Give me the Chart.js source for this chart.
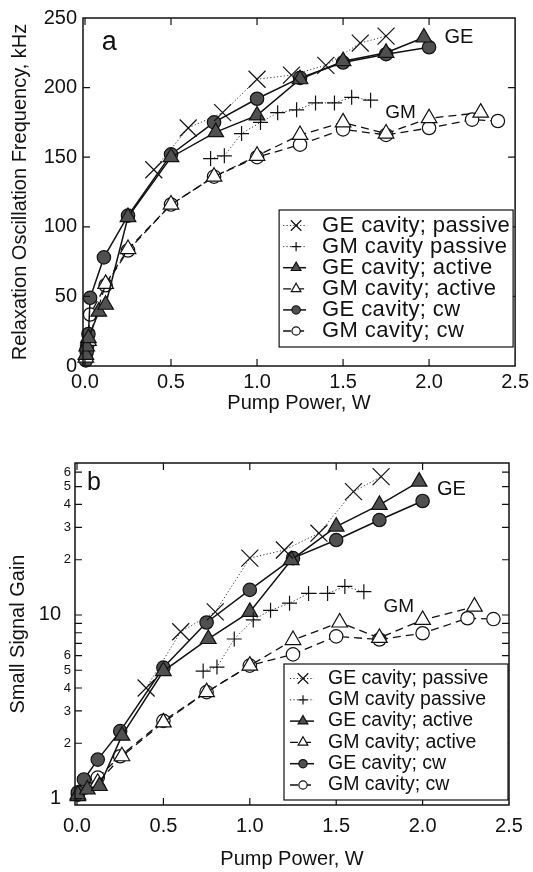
<!DOCTYPE html>
<html>
<head>
<meta charset="utf-8">
<script src="https://cdn.jsdelivr.net/npm/chart.js@4.4.1/dist/chart.umd.min.js"></script>
<style>
  html, body { margin: 0; padding: 0; background: #fff; }
  #wrap { position: relative; width: 533px; height: 872px; }
  canvas { position: absolute; left: 0; }
  #freq { top: 0; }
  #gain { top: 430px; }
</style>
</head>
<body>
<div id="wrap">
  <canvas id="freq" width="533" height="430"></canvas>
  <canvas id="gain" width="533" height="442"></canvas>
</div>
<script>
// Panel a: relaxation oscillation frequency (kHz) vs pump power (W)
const aGePassiveP = [0.4, 0.6, 0.8, 1.0, 1.2, 1.4, 1.6, 1.75];
const aGePassiveF = [141, 171, 182, 206, 209, 216, 232, 237];
const aGmPassiveP = [0.73, 0.81, 0.91, 1.02, 1.12, 1.23, 1.34, 1.45, 1.55, 1.66];
const aGmPassiveF = [149, 151, 167, 175, 182, 184, 189, 189, 193, 191];
const aGeActiveP = [0.005, 0.01, 0.02, 0.08, 0.12, 0.25, 0.5, 0.76, 1.0, 1.25, 1.5, 1.75, 1.97];
const aGeActiveF = [8, 14, 20, 39, 44, 107, 150, 168, 180, 206, 219, 225, 236];
const aGmActiveP = [0.005, 0.02, 0.12, 0.25, 0.5, 0.75, 1.0, 1.25, 1.5, 1.75, 2.0, 2.3];
const aGmActiveF = [6, 18, 59, 84, 116, 136, 151, 166, 175, 167, 178, 182];
const aGeCwP = [0.005, 0.01, 0.015, 0.02, 0.03, 0.11, 0.25, 0.5, 0.75, 1.0, 1.25, 1.5, 1.75, 2.0];
const aGeCwF = [4, 10, 16, 23, 49, 78, 108, 152, 175, 192, 207, 218, 224, 229];
const aGmCwP = [0.005, 0.01, 0.03, 0.12, 0.25, 0.5, 0.75, 1.0, 1.25, 1.5, 1.75, 2.0, 2.25, 2.4];
const aGmCwF = [5, 12, 37, 58, 83, 116, 136, 150, 159, 170, 166, 171, 177, 176];

// Panel b: small signal gain vs pump power (W)
const bGePassiveP = [0.4, 0.6, 0.8, 1.0, 1.2, 1.4, 1.6, 1.76];
const bGePassiveG = [4.0, 8.1, 10.4, 20.4, 22.6, 27.9, 47, 56.7];
const bGmPassiveP = [0.73, 0.81, 0.91, 1.02, 1.12, 1.23, 1.34, 1.45, 1.55, 1.66];
const bGmPassiveG = [4.95, 5.2, 7.4, 9.4, 10.6, 11.6, 13.1, 13.1, 14.3, 13.4];
const bGeActiveP = [0.005, 0.06, 0.13, 0.26, 0.5, 0.76, 1.0, 1.24, 1.5, 1.75, 1.98];
const bGeActiveG = [1.05, 1.12, 1.17, 2.2, 4.95, 7.4, 10.4, 19.9, 30.3, 39.8, 53.3];
const bGmActiveP = [0.005, 0.12, 0.26, 0.5, 0.75, 1.0, 1.25, 1.52, 1.75, 2.0, 2.3];
const bGmActiveG = [1.03, 1.22, 1.7, 2.6, 3.8, 5.3, 7.3, 9.1, 7.5, 9.4, 11.1];
const bGeCwP = [0.005, 0.04, 0.12, 0.25, 0.5, 0.75, 1.0, 1.25, 1.5, 1.75, 2.0];
const bGeCwG = [1.08, 1.27, 1.63, 2.33, 5.17, 9.1, 13.7, 20.4, 25.6, 32.9, 41.8];
const bGmCwP = [0.005, 0.05, 0.12, 0.25, 0.5, 0.75, 1.0, 1.25, 1.5, 1.75, 2.0, 2.26, 2.41];
const bGmCwG = [1.05, 1.15, 1.3, 1.7, 2.65, 3.8, 5.3, 6.1, 7.65, 7.35, 7.95, 9.6, 9.5];

const seriesNames = ['GE cavity; passive', 'GM cavity passive', 'GE cavity; active',
                     'GM cavity; active', 'GE cavity; cw', 'GM cavity; cw'];

const powerTicks = [0, 0.5, 1.0, 1.5, 2.0, 2.5];
const freqTicks = [0, 50, 100, 150, 200, 250];
const gainTicks = [1, 2, 3, 4, 5, 6, 7, 8, 9, 10, 20, 30, 40, 50, 60];
const gainTickLabels = ['1', '2', '3', '4', '5', '6', '', '', '', '10', '2', '3', '4', '5', '6'];

const FONT = '"Liberation Sans", Arial, Helvetica, sans-serif';
Chart.defaults.font.family = FONT;
Chart.defaults.color = '#111';

const INK = '#111';
const FILL = '#505050';
const dotted = [1.2, 2.2];
const dashed = [8, 5];

// marker + line style for each of the six series
const looks = [
  { pointStyle: 'crossRot', pointRadius: 12, pointBorderWidth: 1.2, borderColor: '#333', borderWidth: 1, borderDash: dotted, pointBackgroundColor: INK },
  { pointStyle: 'cross', pointRadius: 7.5, pointBorderWidth: 1.2, borderColor: '#333', borderWidth: 1, borderDash: dotted, pointBackgroundColor: INK },
  { pointStyle: 'triangle', pointRadius: 9, pointBorderWidth: 1.2, borderColor: INK, borderWidth: 1.5, borderDash: [], pointBackgroundColor: FILL },
  { pointStyle: 'triangle', pointRadius: 9, pointBorderWidth: 1.2, borderColor: INK, borderWidth: 1.3, borderDash: dashed, pointBackgroundColor: '#fff' },
  { pointStyle: 'circle', pointRadius: 6.7, pointBorderWidth: 1.2, borderColor: INK, borderWidth: 1.5, borderDash: [], pointBackgroundColor: FILL },
  { pointStyle: 'circle', pointRadius: 6.7, pointBorderWidth: 1.2, borderColor: INK, borderWidth: 1.3, borderDash: dashed, pointBackgroundColor: '#fff' }
];

function makeSet(i, xs, ys) {
  return Object.assign({
    label: seriesNames[i],
    data: xs.map((x, k) => ({ x: x, y: ys[k] })),
    showLine: true,
    tension: 0,
    fill: false,
    pointBorderColor: INK,
    pointHoverRadius: looks[i].pointRadius,
    clip: false
  }, looks[i]);
}

function drawMark(ctx, ds, x, y, k) {
  const r = ds.pointRadius * k;
  ctx.save();
  ctx.setLineDash([]);
  ctx.lineWidth = ds.pointBorderWidth;
  ctx.strokeStyle = INK;
  ctx.fillStyle = ds.pointBackgroundColor;
  ctx.beginPath();
  if (ds.pointStyle === 'circle') {
    ctx.arc(x, y, r, 0, Math.PI * 2);
    ctx.fill(); ctx.stroke();
  } else if (ds.pointStyle === 'triangle') {
    ctx.moveTo(x, y - r);
    ctx.lineTo(x + 0.866 * r, y + 0.5 * r);
    ctx.lineTo(x - 0.866 * r, y + 0.5 * r);
    ctx.closePath();
    ctx.fill(); ctx.stroke();
  } else if (ds.pointStyle === 'cross') {
    ctx.moveTo(x - r, y); ctx.lineTo(x + r, y);
    ctx.moveTo(x, y - r); ctx.lineTo(x, y + r);
    ctx.stroke();
  } else {
    const d = r * Math.SQRT1_2;
    ctx.moveTo(x - d, y - d); ctx.lineTo(x + d, y + d);
    ctx.moveTo(x + d, y - d); ctx.lineTo(x - d, y + d);
    ctx.stroke();
  }
  ctx.restore();
}

// box around the plot with inward ticks on all four sides
const frame = {
  id: 'frame',
  afterDatasetsDraw(chart) {
    const { ctx, chartArea: a, scales } = chart;
    const x = scales.x, y = scales.y;
    ctx.save();
    ctx.strokeStyle = INK;
    ctx.lineWidth = 1.2;
    ctx.beginPath();
    x.ticks.forEach(t => {
      const px = x.getPixelForValue(t.value);
      if (px <= a.left + 1 || px >= a.right - 1) return;
      ctx.moveTo(px, a.bottom); ctx.lineTo(px, a.bottom - 7);
      ctx.moveTo(px, a.top); ctx.lineTo(px, a.top + 7);
    });
    y.ticks.forEach(t => {
      const py = y.getPixelForValue(t.value);
      if (py <= a.top + 1 || py >= a.bottom - 1) return;
      ctx.moveTo(a.left, py); ctx.lineTo(a.left + 7, py);
      ctx.moveTo(a.right, py); ctx.lineTo(a.right - 7, py);
    });
    ctx.stroke();
    ctx.lineWidth = 1.5;
    ctx.strokeRect(a.left, a.top, a.right - a.left, a.bottom - a.top);
    ctx.restore();
  }
};

// legend drawn as a framed box inside the plot
const boxLegend = {
  id: 'boxLegend',
  afterDraw(chart, args, o) {
    const { ctx, chartArea: a } = chart;
    const left = a.right - o.inset - o.width;
    const top = a.top + o.top;
    ctx.save();
    ctx.fillStyle = '#fff';
    ctx.fillRect(left, top, o.width, o.height);
    ctx.strokeStyle = INK;
    ctx.lineWidth = 1.2;
    ctx.strokeRect(left, top, o.width, o.height);
    ctx.font = o.size + 'px ' + FONT;
    ctx.letterSpacing = o.spacing + 'px';
    ctx.textBaseline = 'middle';
    chart.data.datasets.forEach((ds, i) => {
      const cy = top + o.first + i * o.step;
      ctx.setLineDash(ds.borderDash);
      ctx.lineWidth = ds.borderWidth;
      ctx.strokeStyle = ds.borderColor;
      ctx.beginPath();
      ctx.moveTo(left + o.lineFrom, cy);
      ctx.lineTo(left + o.lineTo, cy);
      ctx.stroke();
      drawMark(ctx, ds, left + o.mark, cy, 0.62);
      ctx.fillStyle = INK;
      ctx.fillText(ds.label, left + o.text, cy);
    });
    ctx.restore();
  }
};

// free text placed at data coordinates
const notes = {
  id: 'notes',
  afterDraw(chart, args, o) {
    const { ctx, scales } = chart;
    ctx.save();
    ctx.fillStyle = INK;
    ctx.textBaseline = 'alphabetic';
    o.items.forEach(n => {
      ctx.font = n.size + 'px ' + FONT;
      ctx.fillText(n.text, scales.x.getPixelForValue(n.x), scales.y.getPixelForValue(n.y));
    });
    ctx.restore();
  }
};

function powerAxis(height, pad, titlePad) {
  return {
    type: 'linear',
    min: -0.0116,
    max: 2.5,
    afterBuildTicks: s => { s.ticks = powerTicks.map(v => ({ value: v })); },
    afterFit: s => { s.height = height; },
    grid: { display: false, drawTicks: false },
    border: { display: false },
    ticks: { padding: pad, autoSkip: false, maxRotation: 0, font: { size: 20 }, callback: v => v.toFixed(1) },
    title: { display: true, text: 'Pump Power, W', font: { size: 20 }, padding: { top: 0, bottom: titlePad } }
  };
}

const baseOptions = {
  responsive: false,
  devicePixelRatio: 1,
  animation: false,
  events: []
};

new Chart(document.getElementById('freq'), {
  type: 'scatter',
  data: {
    datasets: [
      makeSet(0, aGePassiveP, aGePassiveF),
      makeSet(1, aGmPassiveP, aGmPassiveF),
      makeSet(2, aGeActiveP, aGeActiveF),
      makeSet(3, aGmActiveP, aGmActiveF),
      makeSet(4, aGeCwP, aGeCwF),
      makeSet(5, aGmCwP, aGmCwF)
    ]
  },
  plugins: [frame, boxLegend, notes],
  options: Object.assign({}, baseOptions, {
    layout: { padding: { top: 18, right: 16, bottom: 0, left: 0 } },
    scales: {
      x: powerAxis(64, 4, 15),
      y: {
        type: 'linear',
        min: 0,
        max: 250,
        afterBuildTicks: s => { s.ticks = freqTicks.map(v => ({ value: v })); },
        afterFit: s => { s.width = 83; },
        grid: { display: false, drawTicks: false },
        border: { display: false },
        ticks: { padding: 6, autoSkip: false, font: { size: 20 } },
        title: { display: true, text: 'Relaxation Oscillation Frequency, kHz', font: { size: 20 }, padding: { top: 8, bottom: 0 } }
      }
    },
    plugins: {
      legend: { display: false },
      tooltip: { enabled: false },
      boxLegend: { inset: 2, width: 234, height: 137, top: 192, size: 22, spacing: 0.4, first: 15.5, step: 21.1, lineFrom: 4, lineTo: 27, mark: 17, text: 43 },
      notes: {
        items: [
          { text: 'a', x: 0.098, y: 227, size: 27 },
          { text: 'GE', x: 2.09, y: 232, size: 20 },
          { text: 'GM', x: 1.745, y: 178, size: 19 }
        ]
      }
    }
  })
});

new Chart(document.getElementById('gain'), {
  type: 'scatter',
  data: {
    datasets: [
      makeSet(0, bGePassiveP, bGePassiveG),
      makeSet(1, bGmPassiveP, bGmPassiveG),
      makeSet(2, bGeActiveP, bGeActiveG),
      makeSet(3, bGmActiveP, bGmActiveG),
      makeSet(4, bGeCwP, bGeCwG),
      makeSet(5, bGmCwP, bGmCwG)
    ]
  },
  plugins: [frame, boxLegend, notes],
  options: Object.assign({}, baseOptions, {
    layout: { padding: { top: 33, right: 24, bottom: 0, left: 0 } },
    scales: {
      x: powerAxis(67, 9, 1),
      y: {
        type: 'logarithmic',
        min: 0.922,
        max: 67.3,
        afterBuildTicks: s => { s.ticks = gainTicks.map(v => ({ value: v })); },
        afterFit: s => { s.width = 75; },
        grid: { display: false, drawTicks: false },
        border: { display: false },
        ticks: {
          padding: 4,
          autoSkip: false,
          font: c => ({ size: (c.tick && (c.tick.value === 1 || c.tick.value === 10)) ? 20 : 13 }),
          // decade labels sit a little further out than the minor ones
          callback: (v, i) => (v === 1 || v === 10) ? gainTickLabels[i] + '\u2002' : gainTickLabels[i]
        },
        title: { display: true, text: 'Small Signal Gain', font: { size: 20 }, padding: { top: 6, bottom: 0 } }
      }
    },
    plugins: {
      legend: { display: false },
      tooltip: { enabled: false },
      boxLegend: { inset: 1, width: 224, height: 136, top: 201, size: 19.5, spacing: 0, first: 14.5, step: 21.3, lineFrom: 6, lineTo: 30, mark: 19, text: 44 },
      notes: {
        items: [
          { text: 'b', x: 0.058, y: 48, size: 25 },
          { text: 'GE', x: 2.083, y: 45, size: 20 },
          { text: 'GM', x: 1.774, y: 10.4, size: 19 }
        ]
      }
    }
  })
});
</script>
</body>
</html>
